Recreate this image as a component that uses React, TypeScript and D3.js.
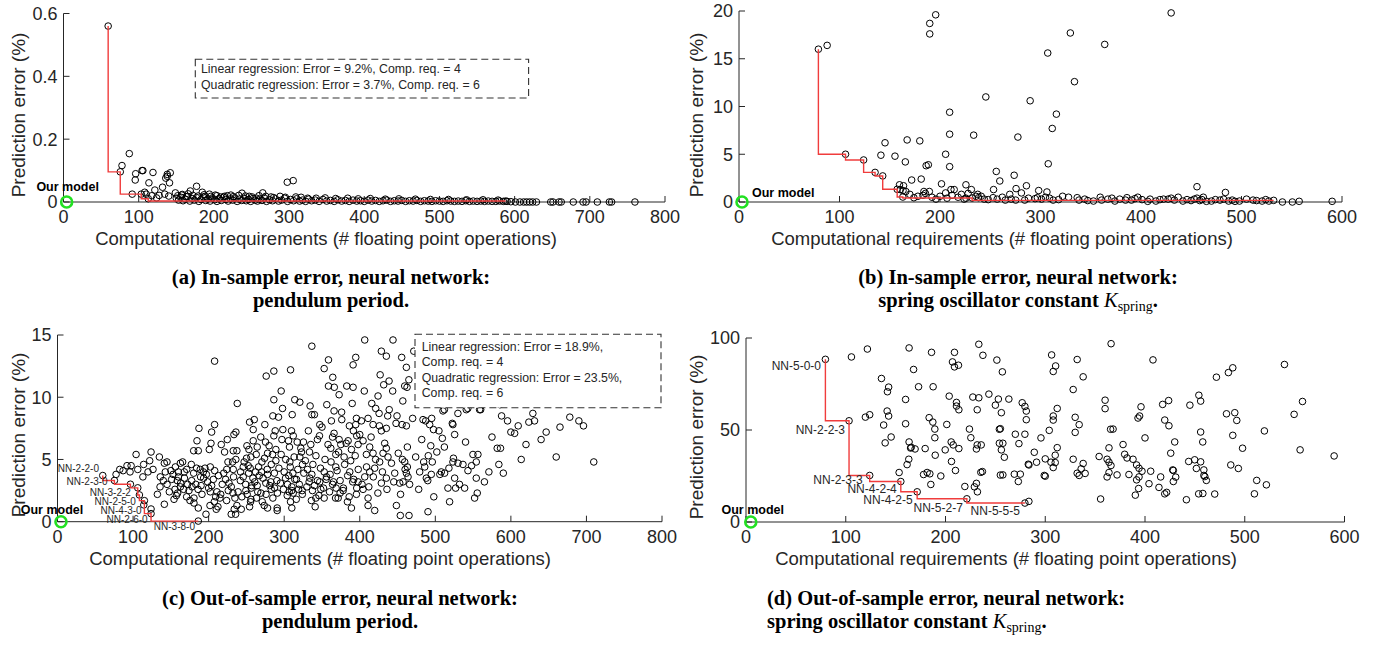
import React from 'react';
import * as d3 from 'd3';

type Pt = [number, number];

// ---------- data: (a) in-sample, pendulum ----------
const aXTicks = [0, 100, 200, 300, 400, 500, 600, 700, 800];
const aYTicks = [0, 0.2, 0.4, 0.6];
const aYTickLabels = ['0', '0.2', '0.4', '0.6'];
const aPareto: Pt[] = [[59.4, 0.56], [75.5, 0.096], [103.4, 0.025], [112.7, 0.0105], [588, 0.003]];
const aScatter: Pt[] = [
  [87.5, 0.154], [77.8, 0.116], [96, 0.09], [95.4, 0.07], [104.5, 0.1], [105.6, 0.1], [119, 0.094], [113.6, 0.061],
  [136, 0.076], [138, 0.088], [142, 0.093], [138, 0.082], [141, 0.061], [131.7, 0.047], [121.5, 0.038], [91.4, 0.025],
  [108, 0.031], [110, 0.025], [117.5, 0.02], [123.8, 0.013], [127.2, 0.021], [134.6, 0.025], [140, 0.019], [148.8, 0.029],
  [157.3, 0.022], [165.8, 0.026], [168.6, 0.035], [177, 0.05], [184.6, 0.031], [188.5, 0.018], [194, 0.025], [204, 0.02],
  [214, 0.018], [222.6, 0.022], [237.4, 0.028], [247, 0.018], [265, 0.029], [297.6, 0.063], [305.5, 0.068], [309, 0.016],
  [279.4, 0.014], [256.7, 0.012], [324.8, 0.012],
  [150, 0.012], [153, 0.006], [156, 0.015], [159, 0.004], [162, 0.009], [165, 0.018], [168, 0.003], [171, 0.011],
  [174, 0.006], [177, 0.014], [180, 0.002], [183, 0.008], [186, 0.016], [189, 0.005], [192, 0.01], [195, 0.003],
  [198, 0.013], [201, 0.007], [204, 0.002], [207, 0.011], [210, 0.005], [213, 0.015], [216, 0.008], [219, 0.003],
  [222, 0.01], [225, 0.006], [228, 0.013], [231, 0.002], [234, 0.009], [237, 0.005], [240, 0.012], [243, 0.004],
  [246, 0.008], [249, 0.002], [252, 0.011], [255, 0.006], [258, 0.003], [261, 0.009], [264, 0.005], [267, 0.013],
  [270, 0.002], [274, 0.007], [278, 0.004], [282, 0.01], [286, 0.003], [290, 0.006], [294, 0.012], [298, 0.002],
  [302, 0.008], [306, 0.004], [310, 0.01], [314, 0.003], [318, 0.006], [322, 0.002], [326, 0.009], [330, 0.004],
  [335, 0.006], [340, 0.002], [345, 0.008], [350, 0.003], [355, 0.005], [360, 0.002], [365, 0.007], [370, 0.003],
  [375, 0.005], [380, 0.002], [385, 0.006], [390, 0.003], [395, 0.004], [400, 0.002], [405, 0.006], [410, 0.003],
  [415, 0.005], [420, 0.002], [425, 0.004], [430, 0.006], [435, 0.002], [440, 0.004], [445, 0.003], [450, 0.005],
  [455, 0.002], [460, 0.004], [465, 0.003], [470, 0.005], [475, 0.002], [480, 0.004], [485, 0.003], [490, 0.002],
  [495, 0.004], [500, 0.003], [505, 0.002], [510, 0.004], [515, 0.003], [520, 0.002], [525, 0.003], [530, 0.002],
  [535, 0.004], [540, 0.002], [545, 0.003], [550, 0.002], [555, 0.003], [560, 0.002], [565, 0.003], [570, 0.002],
  [575, 0.002], [580, 0.003], [585, 0.002], [590, 0.002], [595, 0.001],
  [152, 0.02], [158, 0.024], [163, 0.017], [172, 0.021], [179, 0.019], [187, 0.023], [196, 0.018], [202, 0.022],
  [209, 0.016], [218, 0.02], [226, 0.017], [233, 0.021], [242, 0.019], [251, 0.016], [260, 0.02], [269, 0.018],
  [276, 0.016], [288, 0.018], [295, 0.015], [316, 0.015], [336, 0.012], [348, 0.013], [362, 0.011], [378, 0.012],
  [392, 0.01], [408, 0.011], [428, 0.009], [446, 0.01], [468, 0.009], [488, 0.008], [512, 0.008], [536, 0.007],
  [558, 0.007], [578, 0.006],
  [601, 0], [607, 0], [612, 0], [616, 0], [620, 0], [624, 0], [629, 0], [648, 0], [651, 0], [659, 0], [662, 0],
  [678, 0], [691, 0], [695, 0], [710, 0], [726, 0], [729, 0], [760, 0],
];
const aOurModel: Pt = [4.2, 0];
const aBoxLines = ['Linear regression: Error = 9.2%, Comp. req. = 4', 'Quadratic regression: Error = 3.7%, Comp. req. = 6'];

// ---------- data: (b) in-sample, spring ----------
const bXTicks = [0, 100, 200, 300, 400, 500, 600];
const bYTicks = [0, 5, 10, 15, 20];
const bYTickLabels = ['0', '5', '10', '15', '20'];
const bPareto: Pt[] = [[79, 16.0], [106, 5.0], [124, 4.4], [135.4, 3.1], [143, 2.73], [157.4, 1.33], [163, 0.52], [232, 0.42], [532, 0.17]];
const bScatter: Pt[] = [
  [87.7, 16.4], [189.8, 18.7], [189.8, 17.6], [195.7, 19.6], [430, 19.8], [329.7, 17.7], [363.9, 16.5], [307.2, 15.6],
  [333.8, 12.6], [245.6, 11.0], [289.7, 10.6], [315.8, 9.2], [209.6, 9.4], [209.6, 7.1], [233.5, 7.0], [277.5, 6.8],
  [311.7, 7.7], [167.3, 6.5], [179.9, 6.4], [145.3, 6.2], [141.2, 4.9], [155.2, 4.8], [165.5, 4.2], [205.6, 5.0],
  [209.6, 3.7], [307.7, 4.0], [186.2, 3.8], [188.4, 3.9], [256, 3.2], [273.8, 2.8], [259.5, 2.2], [171.8, 2.3],
  [181.3, 2.4], [201.5, 1.9], [225.8, 1.8], [286, 1.7], [253.3, 1.3], [275.7, 1.4], [298.2, 1.2], [306.4, 1.05],
  [455.7, 1.6], [484, 1.0], [159.7, 1.8], [163.7, 1.7], [160.5, 1.3], [163.2, 1.2], [184, 1.1], [185.5, 0.9],
  [189.4, 1.1], [205.6, 0.95], [210.9, 1.3], [214.1, 1.3], [231.2, 1.3], [174, 0.45], [221.3, 0.8], [237.5, 0.8],
  [252.8, 0.45], [269.4, 0.8], [281, 0.95], [296.9, 0.45], [248, 0.25], [225.8, 0.4], [235.7, 0.6], [238.4, 0.45],
  [256.9, 0.3], [270.8, 0.3], [275.3, 0.2], [284.3, 0.2], [294.6, 0.35], [305, 0.5], [309, 0.4], [312.6, 0.2],
  [327.9, 0.5], [336.5, 0.45], [338.3, 0.2], [352.7, 0.1], [359.4, 0.5], [360.8, 0.2], [367, 0.3], [378.8, 0.3],
  [384.6, 0.2], [390.5, 0.2], [394, 0.35], [396.8, 0.5], [401, 0.25], [406.7, 0.07], [414.8, 0.1], [418.8, 0.25],
  [422.4, 0.3], [427, 0.3], [430, 0.4], [433.2, 0.2], [441.7, 0.1], [445.8, 0.25], [449.8, 0.15], [453, 0.3],
  [455.7, 0.4], [458.4, 0.15], [460.6, 0.25], [465.1, 0.07], [470.1, 0.1], [478.6, 0.2], [482.2, 0.3], [487.2, 0.1],
  [490.8, 0.2], [493.5, 0.07], [498, 0.1], [511.5, 0.2], [520.5, 0.1], [524.1, 0.25], [527.2, 0.1], [540.7, 0.0],
  [550.6, 0.0], [557.4, 0.07], [590.2, 0.07],
  [166, 1.1], [170, 0.8], [178, 0.6], [183, 0.7], [192, 0.5], [196, 0.3], [200, 0.6], [207, 0.4],
  [212, 0.7], [218, 0.5], [224, 0.3], [228, 0.9], [241, 0.6], [244, 0.3], [262, 0.5], [265, 0.2],
  [288, 0.4], [301, 0.3], [318, 0.25], [322, 0.6], [344, 0.3], [347, 0.15], [371, 0.4], [374, 0.1],
  [386, 0.45], [409, 0.3], [437, 0.5], [462, 0.5], [474, 0.25], [505, 0.3], [515, 0.15],
];
const bOurModel: Pt = [3, 0];

// ---------- data: (c) out-of-sample, pendulum ----------
const cXTicks = [0, 100, 200, 300, 400, 500, 600, 700, 800];
const cYTicks = [0, 5, 10, 15];
const cYTickLabels = ['0', '5', '10', '15'];
const cPareto: Pt[] = [[59.9, 3.71], [75.3, 3.31], [96.5, 3.01], [106.2, 2.72], [108.4, 2.15], [115, 1.69], [123.8, 0.65], [186.3, 0.05]];
const cParetoLabels = ['NN-2-2-0', 'NN-2-3-0', 'NN-3-2-2', 'NN-2-5-0', '', 'NN-4-3-0', 'NN-2-6-0', 'NN-3-8-0'];
const cScatter: Pt[] = [
  [336.6, 14.1], [207.9, 12.9], [276.2, 11.7], [286.3, 12.1], [308.4, 12.2], [352.9, 12.3], [358.6, 13.0], [364.3, 11.6],
  [358.6, 10.9], [366.3, 10.8], [372.7, 10.2], [382.8, 10.9], [391.2, 10.8], [394.7, 13.2], [391.2, 12.6], [296, 10.5],
  [237.9, 9.5], [286.3, 9.8], [297.8, 9.1], [314, 9.8], [320.7, 9.6], [334.3, 9.3], [340, 8.6], [336.6, 8.6],
  [356.4, 9.4], [366, 8.9], [362.5, 8.1], [376.2, 8.2], [285, 8.5], [292.5, 8.4], [310.6, 8.6], [260.4, 8.2],
  [254.2, 8.0], [274.4, 7.8], [259, 7.4], [204, 7.2], [187.2, 7.5], [207.9, 7.8], [236.1, 7.2], [233.5, 7.0],
  [224.7, 6.6], [184.6, 6.5], [180.2, 5.7], [186.3, 5.7], [203.1, 6.3], [200.9, 5.8], [216.7, 6.2], [221.1, 5.6],
  [232.6, 5.7], [237.4, 5.7], [250.7, 6.1], [253.3, 5.8], [264.3, 6.0], [275.3, 6.4], [288.1, 7.3], [286.3, 6.9],
  [298.2, 7.4], [309.7, 7.3], [305.7, 6.5], [307, 6.0], [317.2, 6.4], [325.5, 6.4], [335.2, 6.2], [322.9, 5.6],
  [320.7, 5.2], [333.5, 5.6], [344, 6.6], [346.7, 6.9], [347.1, 7.8], [364, 6.8], [372.7, 6.6], [374.9, 6.2],
  [361.7, 5.9], [368.3, 5.4], [384.6, 6.5], [386.3, 7.7], [394.7, 7.8], [391.6, 7.3], [396, 6.9], [397.8, 6.2],
  [389, 5.8], [379.3, 5.2],
  [104, 5.4], [123.8, 5.6], [122, 4.9], [92, 4.5], [96, 4.0], [86.8, 4.1], [106.2, 4.2], [113, 3.6],
  [119.8, 4.0], [126.4, 4.2], [77.5, 3.8], [136, 3.6], [141.4, 4.7], [144.9, 4.8], [142.7, 4.0], [140, 3.3],
  [135.7, 2.8], [132.2, 2.2], [141.4, 1.4], [151.1, 3.4], [155.5, 2.6], [157.3, 2.1], [154.2, 1.8], [162.6, 4.7],
  [165.6, 4.8], [159.9, 4.0], [167.8, 4.0], [162.6, 2.8], [166.9, 2.6], [159, 2.3], [158.6, 3.3], [172.2, 3.0],
  [177.1, 4.6], [180.2, 3.9], [177.5, 3.3], [170.9, 2.0], [175.3, 1.7], [180.6, 1.5], [186.3, 1.1], [196.5, 0.6],
  [184.1, 4.3], [188.9, 4.2], [189.4, 3.6], [195.2, 4.3], [193.4, 3.5], [198.7, 3.2], [202.2, 4.4], [206.2, 3.4],
  [202.2, 2.4], [211, 2.4], [209.3, 2.0], [207.5, 1.6], [215, 1.9], [212.3, 1.2], [222.5, 3.4], [218, 3.0],
  [226, 2.5], [223.8, 1.7], [232.2, 2.3], [234.8, 1.9], [237.4, 1.3], [235.7, 0.6], [243.2, 1.0], [229.9, 0.6],
  [225.6, 4.8], [231.7, 4.8], [232.6, 4.2], [242.3, 4.0], [245.8, 4.4], [252.4, 4.5], [250.2, 5.1], [256, 5.2],
  [245.8, 3.6], [258.6, 3.5], [262.1, 4.0], [266.1, 4.4], [270.5, 4.8], [270, 4.0], [277.5, 4.2], [278, 5.5],
  [284.6, 5.4], [289, 4.9], [296, 5.4], [256.4, 2.7], [264.3, 2.9], [249.3, 2.5], [256, 1.8], [263.4, 1.9],
  [254.2, 1.2], [273.6, 1.3], [269.2, 2.3], [275.7, 3.1], [282.8, 2.6], [287.2, 2.7], [282.3, 3.2], [290.3, 3.3],
  [301.8, 3.5], [304.4, 3.0], [310.1, 2.8], [306.6, 2.4], [311.9, 2.3], [319, 2.6], [323.8, 2.5], [316.3, 3.4],
  [311.5, 3.9], [307.5, 4.8], [313.2, 5.2], [324.2, 4.6], [330.8, 4.2], [336.6, 3.8], [333, 3.2], [337.4, 2.5],
  [341.9, 1.9], [348.5, 2.6], [347.1, 3.2], [352.9, 4.0], [355.5, 3.4], [360.8, 3.8], [368.3, 4.4], [365.2, 3.2],
  [368.7, 2.7], [374, 2.3], [371.4, 1.9], [378.4, 2.7], [386.8, 4.0], [390.7, 3.2], [395.6, 2.2], [383.7, 1.6],
  [389, 1.1], [352.9, 1.9], [341, 1.2], [310.1, 1.1], [308.4, 1.6], [290.7, 1.1], [290.7, 0.9], [278, 1.1],
  [255.5, 1.6], [233.9, 1.0], [210.1, 1.0], [201.8, 1.3], [180.6, 1.9], [191.2, 2.2], [134.8, 5.2], [82.4, 4.2],
  [97.4, 4.5], [114, 4.6], [123.8, 1.02], [114.2, 1.35],
  [406.6, 14.6], [444, 14.6], [428.6, 13.7], [435.2, 13.3], [455.5, 13.2], [461.7, 12.4], [438.8, 11.3], [459.5, 10.9],
  [462.6, 10.8], [431.7, 11.0], [443.6, 10.5], [424.2, 10.1], [415.9, 9.5], [421.1, 9.1], [425.6, 8.7], [437, 8.5],
  [449.3, 8.5], [395.6, 8.3], [402.2, 8.1], [411, 8.3], [417.6, 7.8], [426, 7.7], [435.2, 7.5], [428.6, 7.3],
  [456, 7.8], [461.7, 7.7], [483.7, 8.2], [487.2, 8.1], [495.2, 8.3], [492.5, 7.8], [497.6, 7.4], [504.8, 7.3],
  [509.3, 6.7], [522.5, 7.9], [523.3, 7.8], [525.6, 7.0], [510.1, 8.9], [529.9, 8.7], [541, 9.0], [558.6, 9.0],
  [587.7, 8.5], [595.6, 8.1], [609.7, 7.7], [623.8, 8.0], [629.1, 8.7], [631.3, 8.1], [600, 7.2], [646.7, 7.2],
  [678, 8.4], [696.1, 7.7], [404.4, 6.5], [413.2, 6.0], [408.8, 5.4], [417.6, 5.5], [430.8, 5.5], [435.2, 5.9],
  [437.4, 5.2], [426.4, 4.8], [419.8, 4.3], [413.2, 4.0], [406.6, 3.6], [397.8, 3.2], [404.4, 2.6], [411, 1.9],
  [428.6, 3.1], [435.2, 3.5], [452.9, 3.1], [457.3, 3.2], [446.3, 3.9], [456.4, 5.0], [459.5, 4.8], [463, 4.4],
  [461.7, 3.9], [463.9, 3.6], [479.3, 4.0], [484.6, 4.8], [490.7, 5.3], [496, 4.8], [488.1, 3.5], [494.7, 3.8],
  [507.9, 4.0], [512.3, 3.9], [523.3, 4.8], [530, 4.7], [536.6, 4.6], [549.8, 5.4], [556.4, 5.4], [554.2, 4.8],
  [543.2, 4.1], [525.6, 3.5], [516.7, 2.7], [526.9, 2.7], [538.8, 2.7], [554.2, 3.5], [570.9, 4.0], [584.1, 4.6],
  [581.9, 5.9], [586.3, 5.9], [613.7, 5.0], [660, 5.2], [709.7, 4.8], [518.9, 1.6], [555.5, 2.3], [552, 1.9],
  [490.3, 0.8], [448.5, 1.3], [453.7, 0.5], [465.2, 0.5], [419.8, 0.9], [411, 1.3], [471.5, 13.7], [465, 11.4],
  [512, 9.0], [543, 9.1], [560, 9.0], [585.5, 9.4],
  [145, 3.0], [148, 2.4], [150, 4.1], [153, 3.8], [156, 4.4], [160, 3.6], [163, 3.1], [168, 3.5],
  [171, 4.2], [174, 2.5], [178, 2.8], [183, 3.0], [186, 2.6], [190, 2.9], [193, 4.0], [197, 3.8],
  [200, 2.7], [204, 2.9], [208, 4.1], [213, 3.7], [216, 2.2], [220, 3.9], [224, 4.2], [227, 3.1],
  [230, 2.8], [233, 3.6], [236, 5.0], [239, 2.4], [242, 3.3], [244, 2.0], [247, 4.8], [249, 3.0],
  [251, 2.2], [253, 3.9], [255, 4.3], [257, 2.9], [259, 6.5], [261, 3.2], [263, 5.4], [265, 2.4],
  [267, 3.7], [269, 6.8], [271, 1.6], [272, 3.5], [274, 5.1], [276, 2.2], [278, 3.8], [280, 6.1],
  [281, 2.9], [283, 4.6], [285, 1.9], [287, 3.9], [289, 5.8], [291, 2.3], [293, 4.3], [295, 3.1],
  [297, 6.6], [299, 2.6], [300, 4.0], [302, 5.0], [304, 2.1], [306, 3.7], [308, 4.4], [310, 2.5],
  [312, 6.9], [314, 3.4], [316, 1.8], [318, 4.2], [320, 3.0], [322, 5.9], [324, 2.2], [326, 3.9],
  [328, 4.9], [330, 2.8], [332, 7.3], [334, 3.5], [336, 1.7], [338, 4.6], [340, 2.9], [342, 5.3],
  [344, 3.3], [346, 2.1], [348, 4.3], [350, 7.6], [352, 2.7], [354, 5.0], [356, 3.6], [358, 6.2],
  [360, 2.4], [362, 4.8], [364, 3.0], [366, 7.1], [368, 1.9], [370, 4.1], [372, 5.6], [374, 3.3],
  [376, 8.8], [378, 2.5], [380, 4.6], [382, 6.3], [384, 3.7], [386, 2.0], [388, 4.9], [390, 9.5],
  [392, 3.4], [394, 5.3], [396, 2.7], [398, 4.2], [400, 7.0], [403, 3.0], [406, 10.5], [409, 4.4],
  [412, 2.8], [415, 6.8], [418, 3.6], [421, 5.0], [424, 2.3], [427, 11.8], [430, 4.0], [433, 6.3],
  [436, 2.6], [439, 9.0], [442, 4.7], [445, 3.2], [448, 7.9], [451, 5.5], [454, 2.2], [457, 9.7],
  [460, 4.2], [463, 6.0], [466, 3.0], [470, 8.3], [474, 5.2], [478, 2.6], [482, 6.6], [486, 4.4],
  [490, 3.3], [494, 6.1], [498, 2.0], [502, 5.6], [506, 3.8], [512, 6.0], [518, 4.3], [524, 5.1],
  [532, 3.0], [540, 6.4], [548, 4.5], [565, 3.2], [575, 6.8], [590, 3.9], [605, 7.1], [620, 6.2],
  [640, 6.6], [665, 7.6], [690, 8.1],
];
const cOurModel: Pt = [4.6, 0];
const cBoxLines = ['Linear regression: Error = 18.9%,', 'Comp. req. = 4', 'Quadratic regression: Error = 23.5%,', 'Comp. req. = 6'];

// ---------- data: (d) out-of-sample, spring ----------
const dXTicks = [0, 100, 200, 300, 400, 500, 600];
const dYTicks = [0, 50, 100];
const dYTickLabels = ['0', '50', '100'];
const dPareto: Pt[] = [[79.6, 88.4], [103.3, 55], [124, 25.3], [155.2, 22], [171.6, 16.4], [221.4, 12.6], [279.6, 10.3]];
const dParetoLabels = ['NN-5-0-0', 'NN-2-2-3', 'NN-2-3-3', 'NN-4-2-4', 'NN-4-2-5', 'NN-5-2-7', 'NN-5-5-5'];
const dScatter: Pt[] = [
  [105.7, 89.7], [121.7, 94], [163.5, 94.6], [168, 82.9], [135.8, 78], [143, 73.3], [141.8, 70.8], [173, 73.5],
  [187.6, 73.5], [186, 92.2], [209, 92.2], [207, 87], [209, 84.3], [213, 85.2], [233.4, 96.6], [237.5, 90.6],
  [251.5, 88], [257, 81.6], [203.7, 68.4], [211, 65], [211, 63], [227.4, 67.9], [233.4, 67.5], [243.5, 69.5],
  [253, 66.8], [263.5, 66.8], [250, 63.5], [256, 59.4], [231.8, 61], [213.4, 61], [183.6, 56.7], [187.3, 54.3],
  [189.3, 50.5], [201.3, 53], [160, 66.6], [160, 53.4], [141.5, 60.3], [143, 57.6], [138, 52.7], [119.7, 57],
  [124, 58.3], [139.5, 43], [145.5, 46.2], [163.5, 43.5], [165.6, 40.6], [165, 40.2], [163.2, 34.1], [161.5, 31.2],
  [153.5, 26.9], [169.5, 39.7], [179.6, 39.9], [189.3, 45.8], [189.7, 36.3], [181.6, 26.9], [178, 25.8], [184.3, 26.2],
  [185.3, 20.4], [195.3, 25], [205.7, 43.5], [207.7, 41.9], [213.4, 39.9], [199.7, 39.2], [206, 32.9], [210, 28],
  [224, 50.5], [225.4, 45.8], [231.8, 41.9], [235.8, 41.9], [231, 39.7], [235.4, 27], [237, 27.4], [231, 21],
  [229, 19.1], [219.4, 19.3], [232, 16.4], [283.6, 11.2], [255, 50.7], [254, 50.4], [254, 42.8], [257.5, 42.8],
  [256, 39.2], [259, 35.2], [255, 25.5], [257.5, 25.6], [269, 26], [275, 26], [273, 22], [270, 47.7],
  [279.6, 47.7], [273.6, 42.6], [283, 31.4], [283.6, 31], [291.3, 32.5], [289, 37.9], [299, 25.3], [295.7, 45.7],
  [276.9, 64.8], [279.6, 62.8], [281, 60.3], [281, 55.6],
  [306.4, 90.8], [332, 88.3], [366, 96.9], [408, 88.1], [539.8, 85.6], [310.4, 84.8], [308, 81.8], [338, 78.9],
  [328, 72], [471.6, 78.7], [483.6, 81.2], [488, 83.8], [360, 66.2], [360, 61.6], [396, 62.6], [394.6, 57.6],
  [393, 56.5], [417.7, 63.9], [423.7, 66], [419.8, 55.4], [424, 52.3], [312, 61.7], [308, 57.6], [308, 55.4],
  [330, 56.9], [334, 52.9], [330, 48.7], [304, 49.8], [365.5, 50.4], [368, 50.5], [400, 45.7], [378, 42.1],
  [363.9, 40.3], [379.6, 36.8], [382, 34.8], [388, 34.1], [354, 35.6], [362, 34.1], [363.9, 32.5], [365.9, 30.7],
  [363.9, 26.9], [362, 24.5], [372, 25.6], [383.9, 25.8], [391.6, 31], [394, 29.2], [397, 27.6], [391.6, 22.9],
  [394, 24.5], [393.6, 18.2], [390.3, 14.6], [405.7, 27.6], [404, 20.8], [414, 18.8], [415.7, 24.5], [419.8, 15.3],
  [421.7, 16.1], [425.8, 37.4], [429.8, 43.5], [427.8, 28.3], [428.4, 28], [430.8, 24.4], [428.4, 22], [355.5, 12.5],
  [441.5, 12.1], [443.8, 32.9], [449.8, 33.8], [455.8, 32.7], [451.5, 29.1], [459, 28.3], [459, 25.3], [460, 24.7],
  [461.5, 22.6], [453.8, 15.3], [458, 15.5], [445, 63.5], [454, 68.9], [455.8, 65.7], [455.8, 48.9], [457.9, 43.5],
  [469.9, 15.2], [481.7, 58.8], [490, 59.4], [492, 55.2], [488, 47.1], [497.8, 40.1], [486, 31], [493.6, 29.1],
  [512, 22.6], [521.7, 20.2], [509.7, 15.3], [519.7, 49.5], [557.9, 65.5], [549.5, 58.5], [555.5, 39.2], [589.6, 35.9],
  [300, 34.3], [310, 36.3], [310, 32.3], [305.7, 32.5], [308, 29.6], [312, 40.4], [328, 34.1], [338, 31.8],
  [336, 28.9], [332, 26.5], [334, 25.3], [340, 26.4], [300, 24.9],
];
const dOurModel: Pt = [4.8, 0];

// ---------- text ----------
const xTitle = 'Computational requirements (# floating point operations)';
const yTitle = 'Prediction error (%)';
const ourModelLabel = 'Our model';

const AXIS = '#262626';
const SANS = '"Liberation Sans", Arial, Helvetica, sans-serif';
const SERIF = '"Liberation Serif", "Times New Roman", serif';

// pixel layout of each panel
const panels = [
  {
    key: 'a', xMax: 800, yMax: 0.6, left: 63.5, right: 665, bottom: 202, top: 13.5,
    xTicks: aXTicks, yTicks: aYTicks, yTickLabels: aYTickLabels,
    scatter: aScatter, pareto: aPareto, labels: null as string[] | null, labelOffsets: [] as Pt[],
    ourModel: aOurModel, ourAnchor: 'middle', ourOffset: [1, -11.5] as Pt,
    yTitleX: 25, yTitleY: 115, xTitleX: 326,
    box: { x: 195.3, y: 59.3, w: 333.3, h: 38.7, tx: 201, lineY: [73, 88.5], lines: aBoxLines },
  },
  {
    key: 'b', xMax: 600, yMax: 20, left: 739, right: 1342, bottom: 202, top: 11,
    xTicks: bXTicks, yTicks: bYTicks, yTickLabels: bYTickLabels,
    scatter: bScatter, pareto: bPareto, labels: null, labelOffsets: [],
    ourModel: bOurModel, ourAnchor: 'start', ourOffset: [10, -5] as Pt,
    yTitleX: 703, yTitleY: 115, xTitleX: 1002, box: null,
  },
  {
    key: 'c', xMax: 800, yMax: 15, left: 57.5, right: 662, bottom: 521.7, top: 335,
    xTicks: cXTicks, yTicks: cYTicks, yTickLabels: cYTickLabels,
    scatter: cScatter, pareto: cPareto, labels: cParetoLabels,
    labelOffsets: [[-3.8, -3.8], [-6.7, 4.8], [0.5, 11.8], [-2, 17], [0, 0], [-2.7, 13], [-3.4, 9.7], [-3.3, 9]] as Pt[],
    labelSize: 10,
    ourModel: cOurModel, ourAnchor: 'middle', ourOffset: [-9, -8] as Pt,
    yTitleX: 25, yTitleY: 435, xTitleX: 320,
    box: { x: 415, y: 334.3, w: 246, h: 73.4, tx: 421.7, lineY: [351, 366.3, 381.6, 396.9], lines: cBoxLines },
  },
  {
    key: 'd', xMax: 600, yMax: 100, left: 746, right: 1344.5, bottom: 522, top: 338,
    xTicks: dXTicks, yTicks: dYTicks, yTickLabels: dYTickLabels,
    scatter: dScatter, pareto: dPareto, labels: dParetoLabels,
    labelOffsets: [[-4.4, 11], [-4, 12.7], [-7, 9], [-4, 11], [-4.5, 12.5], [-4, 13.5], [-5, 12]] as Pt[],
    labelSize: 12,
    ourModel: dOurModel, ourAnchor: 'middle', ourOffset: [2, -8] as Pt,
    yTitleX: 703, yTitleY: 437, xTitleX: 1006, box: null,
  },
];

function Panel({ p }: { p: any }) {
  const x = d3.scaleLinear().domain([0, p.xMax]).range([p.left, p.right]);
  const y = d3.scaleLinear().domain([0, p.yMax]).range([p.bottom, p.top]);
  const stair = d3.line<Pt>().x(d => x(d[0])).y(d => y(d[1])).curve(d3.curveStepBefore);

  return (
    <g>
      {/* axes */}
      <line x1={p.left} x2={p.right} y1={p.bottom} y2={p.bottom} stroke={AXIS} strokeWidth={1} />
      <line x1={p.left} x2={p.left} y1={p.bottom} y2={p.top} stroke={AXIS} strokeWidth={1} />
      {p.xTicks.map((t: number) => (
        <g key={'xt' + t}>
          <line x1={x(t)} x2={x(t)} y1={p.bottom} y2={p.bottom - 6} stroke={AXIS} />
          <text x={x(t)} y={p.bottom + 21} textAnchor="middle" fontSize={18} fill={AXIS}>{t}</text>
        </g>
      ))}
      {p.yTicks.map((t: number, i: number) => (
        <g key={'yt' + t}>
          <line x1={p.left} x2={p.left + 6} y1={y(t)} y2={y(t)} stroke={AXIS} />
          <text x={p.left - 6} y={y(t)} dy="0.36em" textAnchor="end" fontSize={18} fill={AXIS}>{p.yTickLabels[i]}</text>
        </g>
      ))}
      <text x={p.xTitleX} y={p.bottom + 43} textAnchor="middle" fontSize={18.5} fill={AXIS}>{xTitle}</text>
      <text transform={`translate(${p.yTitleX},${p.yTitleY}) rotate(-90)`} textAnchor="middle" fontSize={19} fill={AXIS}>{yTitle}</text>

      {/* scatter */}
      {p.scatter.concat(p.pareto).map((d: Pt, i: number) => (
        <circle key={'s' + i} cx={x(d[0])} cy={y(d[1])} r={3.3} fill="none" stroke="#000" strokeWidth={1} />
      ))}
      {/* pareto stair */}
      <path d={stair(p.pareto) || ''} fill="none" stroke="#f03c3c" strokeWidth={1.4} />
      {p.labels && p.pareto.map((d: Pt, i: number) => p.labels[i] ? (
        <text key={'l' + i} x={x(d[0]) + p.labelOffsets[i][0]} y={y(d[1]) + p.labelOffsets[i][1]}
          textAnchor="end" fontSize={p.labelSize} fill={AXIS}>{p.labels[i]}</text>
      ) : null)}

      {/* our model */}
      <circle cx={x(p.ourModel[0])} cy={y(p.ourModel[1])} r={5.5} fill="none" stroke="#22e022" strokeWidth={2.6} />
      <text x={x(p.ourModel[0]) + p.ourOffset[0]} y={y(p.ourModel[1]) + p.ourOffset[1]} textAnchor={p.ourAnchor}
        fontSize={12.5} fontWeight="bold" fill="#000">{ourModelLabel}</text>

      {/* regression box */}
      {p.box && (
        <g>
          <rect x={p.box.x} y={p.box.y} width={p.box.w} height={p.box.h} fill="#fff" stroke="#333" strokeWidth={1.1} strokeDasharray="7,4" />
          {p.box.lines.map((s: string, i: number) => (
            <text key={'b' + i} x={p.box.tx} y={p.box.lineY[i]} fontSize={12.3} fill={AXIS}>{s}</text>
          ))}
        </g>
      )}
    </g>
  );
}

function Caption({ x, y, anchor, line1, line2 }: any) {
  return (
    <g fontFamily={SERIF} fontWeight="bold" fontSize={20.5} fill="#000">
      <text x={x} y={y} textAnchor={anchor}>{line1}</text>
      <text x={x} y={y + 23} textAnchor={anchor}>{line2}</text>
    </g>
  );
}

const springLine = (
  <>
    spring oscillator constant <tspan fontStyle="italic" fontWeight="normal">K</tspan>
    <tspan fontWeight="normal" fontSize={14} dy={4}>spring</tspan>
    <tspan dy={-4}>.</tspan>
  </>
);

export default function App() {
  return (
    <svg width={1382} height={645} style={{ position: 'absolute', left: 0, top: 0, background: '#fff' }}
      fontFamily={SANS}>
      {panels.map(p => <Panel key={p.key} p={p} />)}
      <Caption x={331} y={284} anchor="middle" line1="(a) In-sample error, neural network:" line2="pendulum period." />
      <Caption x={1018} y={284} anchor="middle" line1="(b) In-sample error, neural network:" line2={springLine} />
      <Caption x={340} y={605} anchor="middle" line1="(c) Out-of-sample error, neural network:" line2="pendulum period." />
      <Caption x={767} y={605} anchor="start" line1="(d) Out-of-sample error, neural network:" line2={springLine} />
    </svg>
  );
}
